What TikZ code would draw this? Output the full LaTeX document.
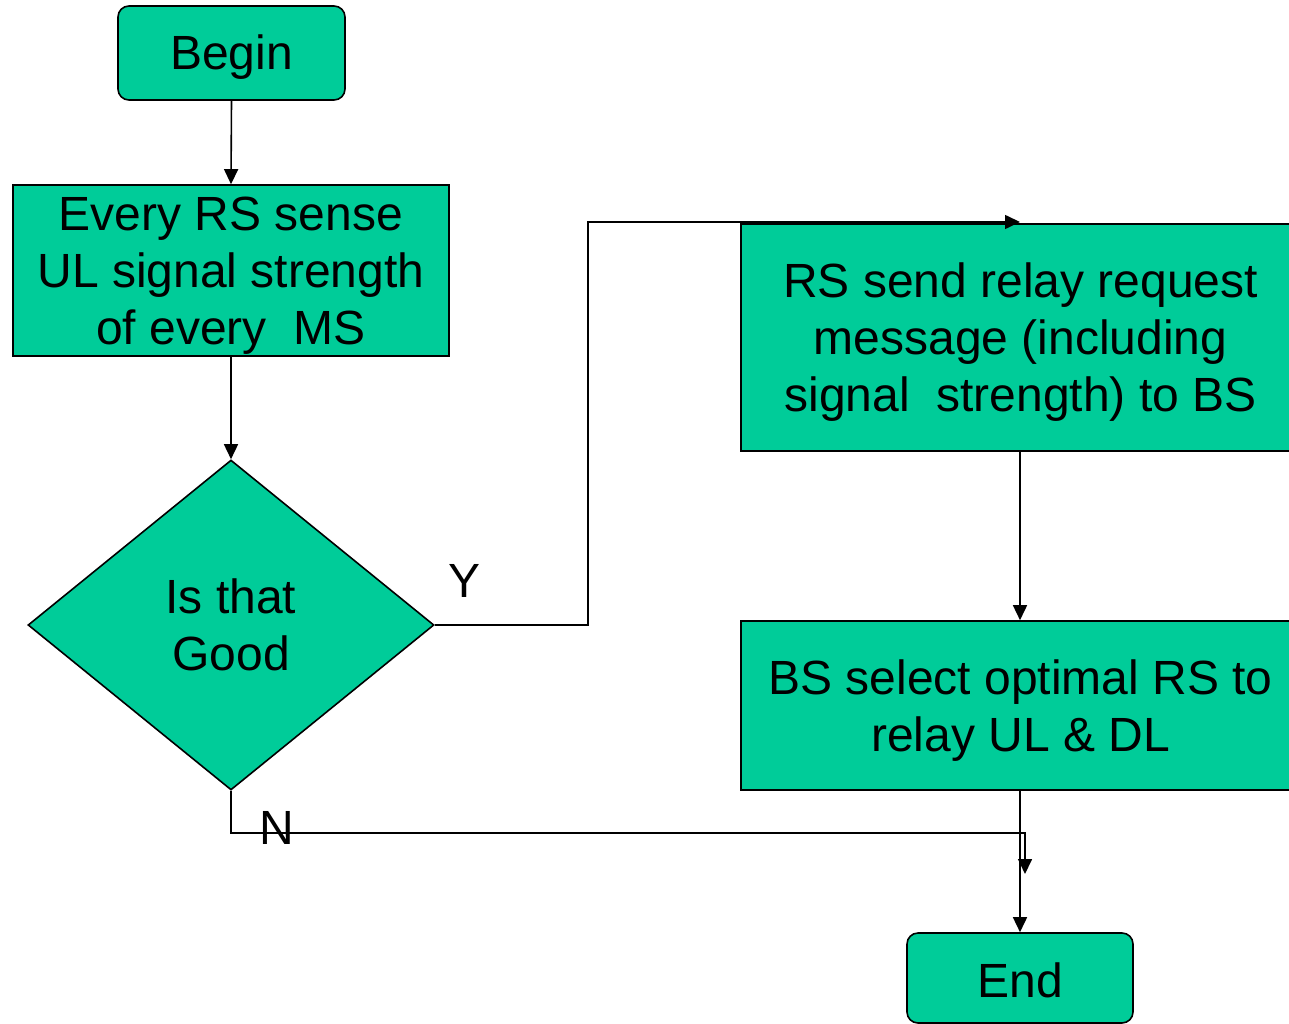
\documentclass[tikz,border=0pt]{standalone}
\usepackage{fontspec}
\setmainfont{Liberation Sans}
\usetikzlibrary{shapes.geometric,arrows.meta}
\definecolor{fc}{HTML}{00CC99}
\newcommand{\lowtext}[2]{\raisebox{#1}[\height][\depth]{\begin{tabular}{@{}c@{}}#2\end{tabular}}}
\begin{document}
\begin{tikzpicture}[x=1pt,y=-1pt,
  base/.style={draw=black,line width=1.6pt,fill=fc,inner sep=0pt,align=center,
    font=\fontsize{48}{57}\selectfont},
  term/.style={base,rounded corners=11pt},
  proc/.style={base},
  dec/.style={base,diamond,aspect=1.23},
  conn/.style={line width=1.6pt,-{Triangle[length=15pt,width=14pt]}},
  lbl/.style={font=\fontsize{48}{57}\selectfont,inner sep=0pt}]
\useasboundingbox (0,0) rectangle (1289,1024);
\node[term,minimum width=227pt,minimum height=94pt] (begin) at (231.5,53) {\raisebox{-4pt}[\height][\depth]{Begin}};
\node[proc,minimum width=436pt,minimum height=171pt] (sense) at (231,270.5) {\lowtext{-6pt}{Every RS sense\\UL signal strength\\of every\ \ MS}};
\node[dec,minimum width=406pt,minimum height=330pt] (good) at (231,625) {Is that\\Good};
\node[proc,minimum width=559pt,minimum height=227pt] (send) at (1020.5,337.5) {\lowtext{-6pt}{RS send relay request\\message (including\\signal\ \ strength) to BS}};
\node[proc,minimum width=559pt,minimum height=169pt] (sel) at (1020.5,705.5) {\lowtext{-6pt}{BS select optimal RS to\\relay UL \& DL}};
\node[term,minimum width=226pt,minimum height=90pt] (end) at (1020,978) {\raisebox{-2pt}[\height][\depth]{End}};
\coordinate (y1) at (588,625);
\coordinate (y2) at (588,222);
\coordinate (y3) at (1020,222);
\coordinate (n1) at (231,833);
\coordinate (n2) at (1025,833);
\coordinate (n3) at (1025,874);
\draw[conn] (begin.south) -- (sense.north);
\draw[conn] (sense.south) -- (good.north);
\draw[conn] (good.east) -- (y1) -- (y2) -- (y3);
\draw[conn] (send.south -| end.north) -- (sel.north -| end.north);
\draw[conn] (sel.south -| end.north) -- (end.north);
\draw[conn] (good.south) -- (n1) -- (n2) -- (n3);
\node[lbl] (ylab) at (465,581) {Y};
\node[lbl] (nlab) at (277,828) {N};
\end{tikzpicture}
\end{document}
